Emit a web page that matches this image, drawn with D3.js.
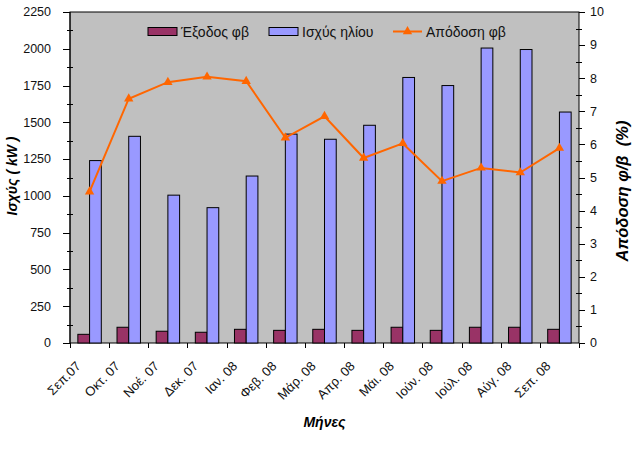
<!DOCTYPE html>
<html>
<head>
<meta charset="utf-8">
<script src="https://cdn.jsdelivr.net/npm/d3@7"></script>
<style>
	body { margin: 0; background: #fff; }
	svg { display: block; font-family: "Liberation Sans", Arial, sans-serif; }
</style>
</head>
<body>
<svg id="chart" width="642" height="449"></svg>
<script>
const months = ["Σεπ.07", "Οκτ. 07", "Νοέ. 07", "Δεκ. 07", "Ιαν. 08", "Φεβ. 08", "Μάρ. 08",
	"Απρ. 08", "Μάι. 08", "Ιούν. 08", "Ιούλ. 08", "Αύγ. 08", "Σεπ. 08"];
const pvOutput = [59, 107, 80, 73, 93, 86, 93, 86, 107, 86, 107, 107, 93];
const sunPower = [1240, 1405, 1005, 920, 1135, 1420, 1385, 1480, 1805, 1750, 2005, 1995, 1570];
const efficiency = [4.57, 7.38, 7.88, 8.04, 7.91, 6.2, 6.85, 5.59, 6.03, 4.89, 5.29, 5.15, 5.89];
const seriesNames = ["Έξοδος φβ", "Ισχύς ηλίου", "Απόδοση φβ"];
const leftTicks = d3.range(0, 2251, 250);
const rightTicks = d3.range(0, 11, 1);

const colors = { out: "#993366", sun: "#9999ff", eff: "#ff6600", plot: "#c0c0c0" };

const svg = d3.select("#chart");
const plot = { left: 70, right: 579, top: 12, bottom: 343 };

const x0 = d3.scaleBand().domain(months).range([plot.left, plot.right]).padding(0);
const x1 = d3.scaleBand().domain(["out", "sun"]).range([0, x0.bandwidth()])
	.paddingInner(0).paddingOuter(0.67);
const yL = d3.scaleLinear().domain([0, 2250]).range([plot.bottom, plot.top]);
const yR = d3.scaleLinear().domain([0, 10]).range([plot.bottom, plot.top]);

// plot area
svg.append("rect")
	.attr("x", plot.left).attr("y", plot.top)
	.attr("width", plot.right - plot.left).attr("height", plot.bottom - plot.top)
	.attr("fill", colors.plot).attr("stroke", "#000").attr("stroke-width", 1);

// bars
const groups = svg.append("g").selectAll("g")
	.data(months)
	.join("g")
	.attr("transform", (d) => `translate(${x0(d)},0)`);

groups.append("rect")
	.attr("x", x1("out"))
	.attr("y", (d, i) => yL(pvOutput[i]))
	.attr("width", x1.bandwidth())
	.attr("height", (d, i) => yL(0) - yL(pvOutput[i]))
	.attr("fill", colors.out).attr("stroke", "#000").attr("stroke-width", 1);

groups.append("rect")
	.attr("x", x1("sun"))
	.attr("y", (d, i) => yL(sunPower[i]))
	.attr("width", x1.bandwidth())
	.attr("height", (d, i) => yL(0) - yL(sunPower[i]))
	.attr("fill", colors.sun).attr("stroke", "#000").attr("stroke-width", 1);

// efficiency line
const line = d3.line()
	.x((d, i) => x0(months[i]) + x0.bandwidth() / 2)
	.y((d) => yR(d));

svg.append("path")
	.attr("d", line(efficiency))
	.attr("fill", "none").attr("stroke", colors.eff).attr("stroke-width", 2);

const tri = d3.symbol().type(d3.symbolTriangle).size(38);
svg.append("g").selectAll("path")
	.data(efficiency)
	.join("path")
	.attr("d", tri)
	.attr("transform", (d, i) => `translate(${x0(months[i]) + x0.bandwidth() / 2},${yR(d)})`)
	.attr("fill", colors.eff);

// left axis
const left = svg.append("g");
left.append("line")
	.attr("x1", plot.left).attr("x2", plot.left)
	.attr("y1", plot.top).attr("y2", plot.bottom).attr("stroke", "#000");
left.selectAll(".minor")
	.data(d3.range(125, 2250, 250))
	.join("line")
	.attr("x1", plot.left - 3).attr("x2", plot.left + 3)
	.attr("y1", (d) => Math.round(yL(d)) + 0.5).attr("y2", (d) => Math.round(yL(d)) + 0.5)
	.attr("stroke", "#000");
left.selectAll(".major")
	.data(leftTicks)
	.join("line")
	.attr("x1", plot.left - 7).attr("x2", plot.left)
	.attr("y1", (d) => Math.round(yL(d)) + 0.5).attr("y2", (d) => Math.round(yL(d)) + 0.5)
	.attr("stroke", "#000");
left.selectAll("text")
	.data(leftTicks)
	.join("text")
	.attr("x", plot.left - 19).attr("y", (d) => yL(d))
	.attr("dy", "0.35em").attr("text-anchor", "end")
	.attr("font-size", "12.5px").attr("fill", "#111")
	.text((d) => d);

// right axis
const right = svg.append("g");
right.selectAll(".minor")
	.data(d3.range(0.5, 10, 1))
	.join("line")
	.attr("x1", plot.right - 3).attr("x2", plot.right + 3)
	.attr("y1", (d) => Math.round(yR(d)) + 0.5).attr("y2", (d) => Math.round(yR(d)) + 0.5)
	.attr("stroke", "#000");
right.selectAll(".major")
	.data(rightTicks)
	.join("line")
	.attr("x1", plot.right).attr("x2", plot.right + 6)
	.attr("y1", (d) => Math.round(yR(d)) + 0.5).attr("y2", (d) => Math.round(yR(d)) + 0.5)
	.attr("stroke", "#000");
right.selectAll("text")
	.data(rightTicks)
	.join("text")
	.attr("x", plot.right + 11).attr("y", (d) => yR(d))
	.attr("dy", "0.35em").attr("text-anchor", "start")
	.attr("font-size", "12.5px").attr("fill", "#111")
	.text((d) => d);

// x axis
const bottom = svg.append("g");
const boundaries = months.map((m) => x0(m)).concat([x0(months[months.length - 1]) + x0.bandwidth()]);
bottom.selectAll("line")
	.data(boundaries)
	.join("line")
	.attr("x1", (d) => Math.round(d) + 0.5).attr("x2", (d) => Math.round(d) + 0.5)
	.attr("y1", plot.bottom).attr("y2", plot.bottom + 5)
	.attr("stroke", "#000");
bottom.selectAll("text")
	.data(months)
	.join("text")
	.attr("transform", (d) => `translate(${x0(d) + x0.bandwidth() / 2 - 8},${plot.bottom + 24}) rotate(-45)`)
	.attr("text-anchor", "end")
	.attr("font-size", "13px").attr("fill", "#111")
	.text((d) => d);

// axis titles
svg.append("text")
	.attr("transform", `translate(17,176) rotate(-90)`)
	.attr("text-anchor", "middle")
	.attr("font-size", "14px").attr("font-weight", "bold").attr("font-style", "italic")
	.text("Ισχύς ( kW )");

svg.append("text")
	.attr("transform", `translate(628,191) rotate(-90)`)
	.attr("text-anchor", "middle")
	.attr("font-size", "16.5px").attr("font-weight", "bold").attr("font-style", "italic")
	.attr("xml:space", "preserve")
	.text("Απόδοση φ/β  (%)");

svg.append("text")
	.attr("x", (plot.left + plot.right) / 2).attr("y", 427)
	.attr("text-anchor", "middle")
	.attr("font-size", "14px").attr("font-weight", "bold").attr("font-style", "italic")
	.text("Μήνες");

// legend
const legend = svg.append("g").attr("font-size", "14px");
const legendX = [148, 269, 393];
const legendY = 31.5;
legend.append("rect")
	.attr("x", legendX[0]).attr("y", legendY - 4).attr("width", 29).attr("height", 8)
	.attr("fill", colors.out).attr("stroke", "#000");
legend.append("rect")
	.attr("x", legendX[1]).attr("y", legendY - 4).attr("width", 29).attr("height", 8)
	.attr("fill", colors.sun).attr("stroke", "#000");
legend.append("line")
	.attr("x1", legendX[2]).attr("x2", legendX[2] + 29)
	.attr("y1", legendY).attr("y2", legendY)
	.attr("stroke", colors.eff).attr("stroke-width", 2);
legend.append("path")
	.attr("d", tri)
	.attr("transform", `translate(${legendX[2] + 14.5},${legendY})`)
	.attr("fill", colors.eff);
legend.selectAll("text")
	.data(seriesNames)
	.join("text")
	.attr("x", (d, i) => legendX[i] + 33)
	.attr("y", legendY + 5)
	.attr("fill", "#111")
	.text((d) => d);
</script>
</body>
</html>
